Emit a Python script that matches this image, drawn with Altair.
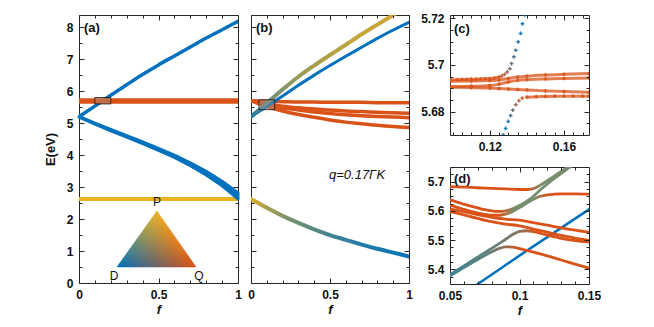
import altair as alt
import pandas as pd

BLUE, YELLOW, ORANGE = "#0072BD", "#EDB120", "#D95319"
INK = "#262626"
FONT = "Liberation Sans"

# ---------------- panel (a) / (b) data ----------------
F_AB = [0.0, 0.1, 0.2, 0.3, 0.4, 0.5, 0.6, 0.7, 0.8, 0.9, 1.0]
A_BLUE_UP = [5.2, 5.53, 5.87, 6.2, 6.52, 6.82, 7.1, 7.38, 7.66, 7.92, 8.18]
A_BLUE_LOW_HI = [5.21, 5.0, 4.8, 4.61, 4.41, 4.21, 4.0, 3.76, 3.49, 3.18, 2.82]
A_BLUE_LOW_LO = [5.19, 4.97, 4.76, 4.56, 4.36, 4.15, 3.93, 3.67, 3.38, 3.04, 2.63]
A_ORANGE = [5.69, 5.69, 5.69, 5.69, 5.69, 5.69, 5.69, 5.69, 5.69, 5.69, 5.69]
A_YELLOW = [2.63, 2.63, 2.63, 2.63, 2.63, 2.63, 2.63, 2.63, 2.63, 2.63, 2.63]
A_BOX_F = [0.1, 0.2]
A_BOX_E = [5.6, 5.8]
TRI_F = [0.24, 0.49, 0.735]   # D, P, Q vertices
TRI_E = [0.5, 2.24, 0.5]
TRI_LABELS = ["D", "P", "Q"]

B_BLUE = [5.2, 5.52, 5.85, 6.18, 6.5, 6.8, 7.09, 7.37, 7.65, 7.91, 8.15]
F_BG = [0.0, 0.05, 0.1, 0.2, 0.3, 0.4, 0.5, 0.6, 0.7, 0.8, 0.9, 0.95]
B_GREEN = [5.2, 5.4, 5.62, 6.05, 6.45, 6.8, 7.13, 7.45, 7.78, 8.08, 8.38, 8.53]
B_OR1 = [5.7, 5.68, 5.67, 5.66, 5.66, 5.65, 5.65, 5.65, 5.64, 5.64, 5.64]
B_OR2 = [5.7, 5.6, 5.53, 5.48, 5.44, 5.41, 5.38, 5.36, 5.34, 5.32, 5.31]
B_OR3 = [5.7, 5.58, 5.48, 5.41, 5.35, 5.3, 5.26, 5.23, 5.21, 5.19, 5.17]
B_OR4 = [5.7, 5.52, 5.38, 5.27, 5.18, 5.1, 5.03, 4.98, 4.93, 4.89, 4.86]
B_LOW = [2.63, 2.35, 2.1, 1.88, 1.68, 1.5, 1.35, 1.2, 1.07, 0.95, 0.83]
B_BOX_F = [0.05, 0.15]
B_BOX_E = [5.42, 5.73]
B_NOTE = "q=0.17ΓK"

# ---------------- panel (c) data ----------------
C1_F = [0.0985, 0.1025, 0.105, 0.1075, 0.11, 0.1125, 0.115, 0.1175, 0.12, 0.1225, 0.125, 0.1265,
        0.128, 0.1294, 0.1308, 0.1317, 0.133, 0.134, 0.1353, 0.1366, 0.1376, 0.1388]
C1_E = [5.6937, 5.6937, 5.6938, 5.6938, 5.6939, 5.6939, 5.694, 5.6941, 5.6942, 5.6944, 5.6948, 5.6953,
        5.696, 5.697, 5.6984, 5.7006, 5.7035, 5.7063, 5.7099, 5.7135, 5.7176, 5.7215]
C1_Q = [1, 1, 1, 1, 1, 1, 1, 1, 1, 1, 0.95, 0.85, 0.75, 0.65, 0.55, 0.45, 0.3, 0.2, 0.1, 0.0, 0.0, 0.0]
C_F = [0.0985, 0.11, 0.12, 0.125, 0.13, 0.135, 0.14, 0.15, 0.16, 0.1735]
C2_E = [5.693, 5.6931, 5.6933, 5.6936, 5.6942, 5.6948, 5.6952, 5.6957, 5.696, 5.6963]
C3_E = [5.6908, 5.6909, 5.6912, 5.6918, 5.6927, 5.6934, 5.6937, 5.694, 5.6942, 5.6944]
C4_E = [5.6904, 5.6903, 5.6901, 5.6899, 5.6897, 5.6895, 5.6893, 5.6889, 5.6886, 5.6883]
C5_F = [0.1272, 0.1285, 0.1299, 0.1312, 0.1324, 0.134, 0.1357, 0.1375, 0.14, 0.145, 0.15, 0.155,
        0.16, 0.165, 0.17, 0.1735]
C5_E = [5.67, 5.6728, 5.6758, 5.6783, 5.6807, 5.683, 5.6847, 5.6858, 5.6862, 5.6864, 5.6865, 5.6866,
        5.6866, 5.6866, 5.6866, 5.6866]
C5_Q = [0.0, 0.0, 0.1, 0.3, 0.5, 0.7, 0.85, 0.95, 1, 1, 1, 1, 1, 1, 1, 1]

# ---------------- panel (d) data ----------------
D1_F = [0.05, 0.06, 0.07, 0.08, 0.09, 0.1, 0.105, 0.11, 0.115, 0.12, 0.125, 0.13, 0.135, 0.14]
D1_E = [5.683, 5.681, 5.679, 5.677, 5.675, 5.673, 5.673, 5.676, 5.688, 5.703, 5.719, 5.735, 5.751, 5.767]
D2_F = [0.05, 0.055, 0.06, 0.065, 0.07, 0.075, 0.08, 0.085, 0.09, 0.095, 0.1, 0.105, 0.11, 0.115,
        0.12, 0.125, 0.13, 0.135, 0.14]
D2_E = [5.638, 5.63, 5.623, 5.616, 5.61, 5.604, 5.6, 5.598, 5.6, 5.607, 5.618, 5.632, 5.65, 5.672,
        5.692, 5.711, 5.728, 5.745, 5.762]
D3_F = [0.05, 0.055, 0.06, 0.065, 0.07, 0.075, 0.08, 0.085, 0.09, 0.095, 0.1, 0.105, 0.11, 0.115,
        0.12, 0.125, 0.13, 0.14, 0.15]
D3_E = [5.62, 5.612, 5.605, 5.598, 5.592, 5.588, 5.585, 5.585, 5.589, 5.598, 5.611, 5.626, 5.64, 5.65,
        5.655, 5.657, 5.658, 5.658, 5.657]
D4_F = [0.05, 0.06, 0.07, 0.08, 0.09, 0.1, 0.11, 0.12, 0.13, 0.14, 0.15]
D4_E = [5.607, 5.597, 5.587, 5.578, 5.572, 5.568, 5.56, 5.551, 5.542, 5.534, 5.527]
D5_E = [5.598, 5.586, 5.574, 5.563, 5.555, 5.549, 5.538, 5.527, 5.516, 5.507, 5.499]
D6_F = [0.05, 0.055, 0.06, 0.065, 0.07, 0.075, 0.08, 0.085, 0.09, 0.095, 0.1, 0.105, 0.11, 0.12,
        0.13, 0.14, 0.15]
D6_E = [5.382, 5.397, 5.412, 5.427, 5.442, 5.457, 5.472, 5.487, 5.503, 5.519, 5.53, 5.532, 5.529,
        5.517, 5.506, 5.498, 5.493]
D7_F = [0.05, 0.055, 0.06, 0.065, 0.07, 0.075, 0.08, 0.085, 0.09, 0.095, 0.1, 0.11, 0.12, 0.13,
        0.14, 0.15]
D7_E = [5.378, 5.392, 5.406, 5.42, 5.434, 5.447, 5.46, 5.471, 5.477, 5.476, 5.471, 5.459, 5.446,
        5.432, 5.418, 5.404]
DB_F = [0.065, 0.07, 0.1, 0.13, 0.15]
DB_E = [5.334, 5.35, 5.447, 5.542, 5.605]


def rgb(h):
    return [int(h[i:i + 2], 16) for i in (1, 3, 5)]


def mix(wd, wp, wq):
    s = wd + wp + wq
    c = [(wd * a + wp * b + wq * q) / s for a, b, q in zip(rgb(BLUE), rgb(YELLOW), rgb(ORANGE))]
    return "#%02x%02x%02x" % tuple(int(round(v)) for v in c)


TEAL = mix(0.72, 0.28, 0.0)
GREY_GREEN = mix(0.5, 0.45, 0.05)
HUMP = mix(0.4, 0.2, 0.4)


def grad(fs, stops):
    lo, hi = min(fs), max(fs)
    return alt.LinearGradient(
        gradient="linear", x1=0, x2=1, y1=0, y2=0,
        stops=[alt.GradientStop(offset=min(1, max(0, (f - lo) / (hi - lo))), color=c) for f, c in stops])


def line(fs, es, xs, ys, color=None, width=3, stops=None, opacity=1):
    df = pd.DataFrame({"f": fs, "E": es, "i": list(range(len(fs)))})
    stroke = grad(fs, stops) if stops else color
    return alt.Chart(df).mark_line(
        stroke=stroke, strokeWidth=width, strokeCap="round", strokeJoin="round",
        interpolate="monotone", clip=True, opacity=opacity).encode(
        x=alt.X("f:Q", scale=xs, axis=None), y=alt.Y("E:Q", scale=ys, axis=None), order="i:Q")


def box(bf, be, xs, ys):
    df = pd.DataFrame({"f0": [bf[0]], "f1": [bf[1]], "e0": [be[0]], "e1": [be[1]]})
    return alt.Chart(df).mark_rect(fill="#9a9a9a", fillOpacity=0.35, stroke="#111111", strokeWidth=0.8).encode(
        x=alt.X("f0:Q", scale=xs, axis=None), x2="f1:Q",
        y=alt.Y("e0:Q", scale=ys, axis=None), y2="e1:Q")


def dots(fs, es, qs, xs, ys):
    df = pd.DataFrame({"f": fs, "E": es, "c": [mix(1 - q, 0, q) for q in qs]})
    return alt.Chart(df).mark_point(shape="cross", filled=True, size=14, opacity=0.9, clip=True).encode(
        x=alt.X("f:Q", scale=xs, axis=None), y=alt.Y("E:Q", scale=ys, axis=None),
        color=alt.Color("c:N", scale=None))


def label(txt, x, y, size=13, style="normal", weight="bold"):
    return alt.Chart(pd.DataFrame({"t": [txt]})).mark_text(
        align="left", baseline="middle", font=FONT, fontSize=size, fontWeight=weight,
        fontStyle=style, color="#111111").encode(text="t:N", x=alt.value(x), y=alt.value(y))


def axes(xs, ys, xdom, ydom, w, h, xmaj, xmin, ymaj, ymin, xlab, ylab, xtitle, ytitle):
    df = pd.DataFrame({"f": [xdom[0]], "E": [ydom[0]]})
    common = dict(grid=True, gridColor=INK, gridOpacity=1, gridWidth=1, ticks=False, domain=False, zindex=1)
    lab = dict(labelFont=FONT, labelFontSize=12, labelFontWeight="bold", labelColor="#111111",
               labelExpr="format(datum.value, '~g')", labelFlush=False, labelOverlap=False,
               titleFont=FONT, titleFontSize=13, titleFontWeight="bold", titleColor="#111111")
    ax1 = alt.Axis(orient="bottom", values=xmaj, gridDash=[5, h - 10], labels=xlab, labelPadding=6,
                   title=xtitle, titleFontStyle="italic", titlePadding=3, **common, **lab)
    ay1 = alt.Axis(orient="left", values=ymaj, gridDash=[5, w - 10], labels=ylab, labelPadding=6,
                   title=ytitle, titlePadding=9, **common, **lab)
    ax2 = alt.Axis(orient="top", values=xmin, gridDash=[3, h - 6], labels=False, title=None, **common)
    ay2 = alt.Axis(orient="right", values=ymin, gridDash=[3, w - 6], labels=False, title=None, **common)
    l1 = alt.Chart(df).mark_point(opacity=0, size=0).encode(
        x=alt.X("f:Q", scale=xs, axis=ax1), y=alt.Y("E:Q", scale=ys, axis=ay1))
    l2 = alt.Chart(df).mark_point(opacity=0, size=0).encode(
        x=alt.X("f:Q", scale=xs, axis=ax2), y=alt.Y("E:Q", scale=ys, axis=ay2))
    return [l1, l2]


def sc(dom):
    return alt.Scale(domain=dom, nice=False, zero=False)


# ---------------- panel (a) ----------------
WA, WB, WC, HAB, HC, HD = 159, 158, 139, 268, 120, 117
xa, ya = sc([0, 1]), sc([0, 8.38])
band = alt.Chart(pd.DataFrame({"f": F_AB, "hi": A_BLUE_LOW_HI, "lo": A_BLUE_LOW_LO})).mark_area(
    color=BLUE, stroke=BLUE, strokeWidth=3, strokeJoin="round").encode(
    x=alt.X("f:Q", scale=xa, axis=None), y=alt.Y("hi:Q", scale=ya, axis=None), y2="lo:Q")

rows = []
NR = 56
for r in range(NR):
    e0 = TRI_E[0] + (TRI_E[1] - TRI_E[0]) * r / NR
    e1 = TRI_E[0] + (TRI_E[1] - TRI_E[0]) * (r + 1) / NR
    t = (r + 0.5) / NR
    xl = TRI_F[0] + (TRI_F[1] - TRI_F[0]) * t
    xr = TRI_F[2] + (TRI_F[1] - TRI_F[2]) * t
    nc = max(1, int(round(30 * (1 - t))))
    for c in range(nc):
        s = (c + 0.5) / nc
        rows.append(dict(f0=xl + (xr - xl) * c / nc, f1=xl + (xr - xl) * (c + 1) / nc, e0=e0, e1=e1,
                         c=mix((1 - t) * (1 - s), t, (1 - t) * s)))
tri = alt.Chart(pd.DataFrame(rows)).mark_rect(strokeWidth=0.6).encode(
    x=alt.X("f0:Q", scale=xa, axis=None), x2="f1:Q", y=alt.Y("e0:Q", scale=ya, axis=None), y2="e1:Q",
    color=alt.Color("c:N", scale=None), stroke=alt.Stroke("c:N", scale=None))
tri_txt = []
for k, (dx, dy) in enumerate([(-3, 9), (0, -9), (3, 9)]):
    tri_txt.append(alt.Chart(pd.DataFrame({"f": [TRI_F[k]], "E": [TRI_E[k]], "t": [TRI_LABELS[k]]})).mark_text(
        font=FONT, fontSize=12, dx=dx, dy=dy, color="#111111").encode(
        x=alt.X("f:Q", scale=xa, axis=None), y=alt.Y("E:Q", scale=ya, axis=None), text="t:N"))

pa_layers = [
    line(F_AB, A_YELLOW, xa, ya, YELLOW, 4),
    line(F_AB, A_BLUE_UP, xa, ya, BLUE, 3.5),
    band,
    line(F_AB, A_ORANGE, xa, ya, ORANGE, 5.5),
    box(A_BOX_F, A_BOX_E, xa, ya),
    tri, *tri_txt,
    label("(a)", 5, 13),
]
pa = alt.layer(*pa_layers, *axes(xa, ya, [0, 1], [0, 8.38], WA, HAB, [0, 0.5, 1],
                                [0.1, 0.2, 0.3, 0.4, 0.6, 0.7, 0.8, 0.9],
                                [0, 1, 2, 3, 4, 5, 6, 7, 8],
                                [0.5, 1.5, 2.5, 3.5, 4.5, 5.5, 6.5, 7.5],
                                True, True, "f", "E(eV)")).resolve_axis(
    x="independent", y="independent").properties(width=WA, height=HAB)

# ---------------- panel (b) ----------------
xb, yb = sc([0, 1]), sc([0, 8.38])
pb_layers = [
    line(F_AB, B_LOW, xb, yb, width=4, stops=[(0, mix(0.05, 0.95, 0)), (0.1, mix(0.3, 0.7, 0)),
                                               (0.25, mix(0.5, 0.5, 0)), (0.5, mix(0.72, 0.28, 0)),
                                               (0.75, mix(0.88, 0.12, 0)), (1, mix(0.97, 0.03, 0))]),
    line(F_AB, B_OR4, xb, yb, ORANGE, 3.5),
    line(F_AB, B_OR3, xb, yb, ORANGE, 3.5),
    line(F_AB, B_OR2, xb, yb, ORANGE, 3.5),
    line(F_AB, B_OR1, xb, yb, ORANGE, 3.5),
    line(F_AB, B_BLUE, xb, yb, BLUE, 3),
    line(F_BG, B_GREEN, xb, yb, width=4, stops=[(0, mix(0.9, 0.1, 0)), (0.1, mix(0.55, 0.45, 0)),
                                                 (0.3, mix(0.35, 0.65, 0)), (0.6, mix(0.2, 0.8, 0)),
                                                 (0.95, mix(0.12, 0.88, 0))]),
    box(B_BOX_F, B_BOX_E, xb, yb),
    label("(b)", 5, 13),
    label(B_NOTE, 78, 160, size=13, style="italic", weight="normal"),
]
pb = alt.layer(*pb_layers, *axes(xb, yb, [0, 1], [0, 8.38], WB, HAB, [0, 0.5, 1],
                                [0.1, 0.2, 0.3, 0.4, 0.6, 0.7, 0.8, 0.9],
                                [0, 1, 2, 3, 4, 5, 6, 7, 8],
                                [0.5, 1.5, 2.5, 3.5, 4.5, 5.5, 6.5, 7.5],
                                True, False, "f", None)).resolve_axis(
    x="independent", y="independent").properties(width=WB, height=HAB)

# ---------------- panel (c) ----------------
XC, YC = [0.0985, 0.1735], [5.67, 5.7214]
xc, yc = sc(XC), sc(YC)
pc_layers = [
    line(C_F, C2_E, xc, yc, ORANGE, 3, opacity=0.75),
    line(C_F, C3_E, xc, yc, ORANGE, 3, opacity=0.75),
    line(C_F, C4_E, xc, yc, ORANGE, 3, opacity=0.75),
    line(C1_F[:11], C1_E[:11], xc, yc, ORANGE, 3, opacity=0.75),
    line(C5_F[8:], C5_E[8:], xc, yc, ORANGE, 3, opacity=0.75),
    dots(C_F, C2_E, [1] * len(C_F), xc, yc),
    dots(C_F, C3_E, [1] * len(C_F), xc, yc),
    dots(C_F, C4_E, [1] * len(C_F), xc, yc),
    dots(C1_F, C1_E, C1_Q, xc, yc),
    dots(C5_F, C5_E, C5_Q, xc, yc),
    label("(c)", 4, 14),
]
pc = alt.layer(*pc_layers, *axes(xc, yc, XC, YC, WC, HC, [0.12, 0.16],
                                [0.1, 0.105, 0.11, 0.115, 0.125, 0.13, 0.135, 0.14, 0.145, 0.15, 0.155,
                                 0.165, 0.17],
                                [5.68, 5.7, 5.72], [5.675, 5.685, 5.69, 5.695, 5.705, 5.71, 5.715],
                                True, True, None, None)).resolve_axis(
    x="independent", y="independent").properties(width=WC, height=HC)

# ---------------- panel (d) ----------------
XD, YD = [0.05, 0.15], [5.35, 5.75]
xd, yd = sc(XD), sc(YD)
pd_layers = [
    line(DB_F, DB_E, xd, yd, BLUE, 2.5),
    line(D7_F, D7_E, xd, yd, width=2.8, stops=[(0.05, TEAL), (0.075, mix(0.6, 0.3, 0.1)),
                                                (0.088, HUMP), (0.1, ORANGE), (0.15, ORANGE)]),
    line(D6_F, D6_E, xd, yd, width=2.8, stops=[(0.05, TEAL), (0.085, mix(0.55, 0.3, 0.15)),
                                                (0.1, HUMP), (0.112, ORANGE), (0.15, ORANGE)]),
    line(D4_F, D5_E, xd, yd, ORANGE, 2.8),
    line(D4_F, D4_E, xd, yd, ORANGE, 2.8),
    line(D3_F, D3_E, xd, yd, width=2.8, stops=[(0.05, ORANGE), (0.085, ORANGE), (0.097, GREY_GREEN),
                                                (0.11, GREY_GREEN), (0.12, ORANGE), (0.15, ORANGE)]),
    line(D2_F, D2_E, xd, yd, width=2.8, stops=[(0.05, ORANGE), (0.085, ORANGE), (0.097, GREY_GREEN),
                                                (0.14, GREY_GREEN)]),
    line(D1_F, D1_E, xd, yd, width=2.8, stops=[(0.05, ORANGE), (0.105, ORANGE), (0.116, GREY_GREEN),
                                                (0.14, GREY_GREEN)]),
    label("(d)", 4, 12),
]
pdd = alt.layer(*pd_layers, *axes(xd, yd, XD, YD, WC, HD, [0.05, 0.1, 0.15],
                                 [0.06, 0.07, 0.08, 0.09, 0.11, 0.12, 0.13, 0.14],
                                 [5.4, 5.5, 5.6, 5.7],
                                 [5.375, 5.425, 5.45, 5.475, 5.525, 5.55, 5.575, 5.625, 5.65, 5.675, 5.725],
                                 True, True, "f", None)).resolve_axis(
    x="independent", y="independent").properties(width=WC, height=HD)

left = alt.hconcat(pa, pb, spacing=5)
right = alt.vconcat(pc, pdd, spacing=13)
chart = alt.hconcat(left, right, spacing=7).properties(
    padding={"left": 35, "top": 3, "right": 5, "bottom": 5}, background="white"
).configure_view(stroke=INK, strokeWidth=1)

chart.save("out.html", embed_options={"renderer": "svg", "actions": False})
